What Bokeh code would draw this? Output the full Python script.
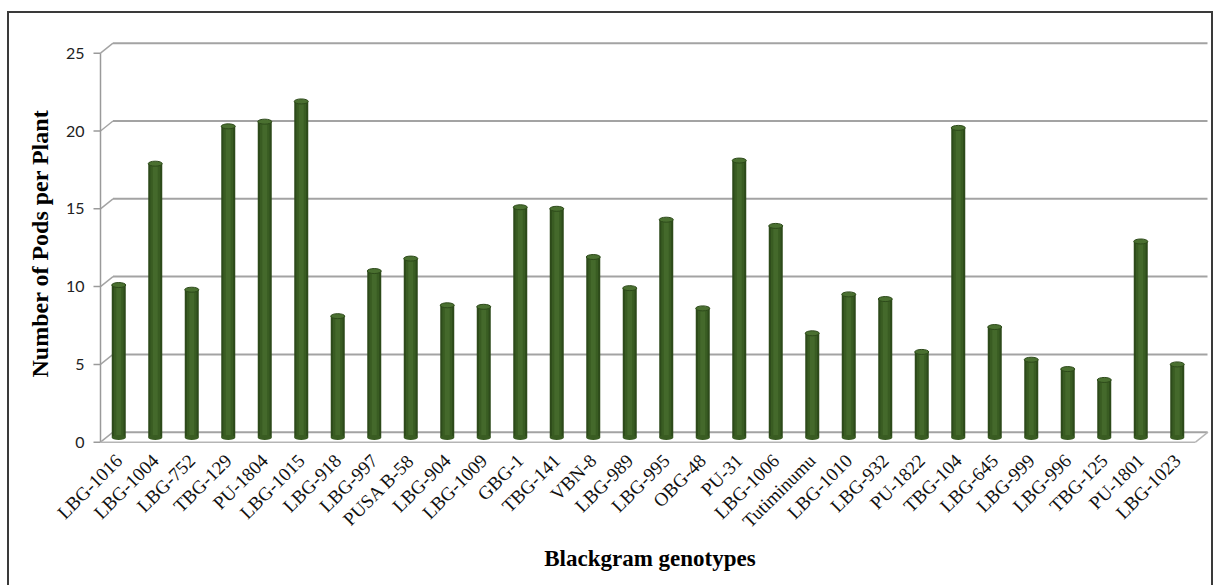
import math
from bokeh.plotting import figure
from bokeh.models import Range1d, FixedTicker
from bokeh.embed import file_html
from bokeh.resources import INLINE

# ---------------- data ----------------
genotypes = ["LBG-1016", "LBG-1004", "LBG-752", "TBG-129", "PU-1804", "LBG-1015",
             "LBG-918", "LBG-997", "PUSA B-58", "LBG-904", "LBG-1009", "GBG-1",
             "TBG-141", "VBN-8", "LBG-989", "LBG-995", "OBG-48", "PU-31",
             "LBG-1006", "Tutiminumu", "LBG-1010", "LBG-932", "PU-1822", "TBG-104",
             "LBG-645", "LBG-999", "LBG-996", "TBG-125", "PU-1801", "LBG-1023"]
pods = [9.8, 17.6, 9.5, 20.0, 20.3, 21.6,
        7.8, 10.7, 11.5, 8.5, 8.4, 14.8,
        14.7, 11.6, 9.6, 14.0, 8.3, 17.8,
        13.6, 6.7, 9.2, 8.9, 5.5, 19.9,
        7.1, 5.0, 4.4, 3.7, 12.6, 4.7]
y_ticks = [0, 5, 10, 15, 20, 25]
x_title = "Blackgram genotypes"
y_title = "Number of Pods per Plant"

# ---------------- geometry / style (page pixels) ----------------
OFF_X, OFF_Y = 9, 13          # canvas offset inside the bordered page
PX_X = 36.5                   # px per category
PX_Y = 15.56                  # px per unit
X0_PX = 100.0                 # page px of category start (front axis)
Y0_PX = 441.7                 # page px of value 0 (front)
FR_L, FR_R, FR_T, FR_B = 88, 1211, 40, 446
W, H = 1211 - OFF_X, 585 - OFF_Y
DX = 12.5 / PX_X              # depth offset of the back wall
DY = 10.0 / PX_Y
BAR_DEPTH = 0.3               # bar base sits at mid-depth
BAR_W = 14 / PX_X
CAP_H = 5 / PX_Y
FONT_SERIF = "Liberation Serif"

n = len(genotypes)
xs = [i + 0.5 for i in range(n)]

p = figure(width=W, height=H, output_backend="svg", toolbar_location=None,
           x_range=Range1d((FR_L - X0_PX) / PX_X, (FR_R - X0_PX) / PX_X),
           y_range=Range1d((Y0_PX - FR_B) / PX_Y, (Y0_PX - FR_T) / PX_Y),
           min_border_left=FR_L - OFF_X, min_border_right=0,
           min_border_top=FR_T - OFF_Y, min_border_bottom=H - (FR_B - OFF_Y))
p.styles = {"margin-left": f"{OFF_X}px", "margin-top": f"{OFF_Y}px",
            "outline": "2px solid #3a3a3a"}
p.outline_line_color = None
p.xgrid.grid_line_color = None
p.ygrid.grid_line_color = None
p.background_fill_color = "white"
p.border_fill_color = "white"

# ---- 3D-like wall / floor ----
grid_col = "#a3a3a3"
x_back_end = (1207 - X0_PX) / PX_X
p.segment(x0=[DX] * len(y_ticks), y0=[v + DY for v in y_ticks],
          x1=[x_back_end] * len(y_ticks), y1=[v + DY for v in y_ticks],
          line_color=grid_col, line_width=2)
p.segment(x0=[0] * len(y_ticks), y0=y_ticks,
          x1=[DX] * len(y_ticks), y1=[v + DY for v in y_ticks],
          line_color=grid_col, line_width=1.5)
p.segment(x0=[-7 / PX_X] * len(y_ticks), y0=y_ticks,
          x1=[0] * len(y_ticks), y1=y_ticks, line_color="#9a9a9a", line_width=1.5)
p.segment(x0=[0], y0=[0], x1=[0], y1=[y_ticks[-1]], line_color="#9a9a9a", line_width=1.5)
p.segment(x0=[0, n], y0=[0, 0], x1=[n, n + DX], y1=[0, DY],
          line_color="#b5b5b5", line_width=1.5)

# ---- cylinder bars ----
tops = [v + BAR_DEPTH for v in pods]
p.vbar(x=xs, bottom=BAR_DEPTH, top=tops, width=BAR_W,
       fill_color="#2d4a1a", line_color=None)
p.vbar(x=xs, bottom=BAR_DEPTH, top=tops, width=BAR_W * 0.7,
       fill_color="#395c22", line_color=None)
p.vbar(x=xs, bottom=BAR_DEPTH, top=tops, width=BAR_W * 0.35,
       fill_color="#44692b", line_color=None)
p.ellipse(x=xs, y=[BAR_DEPTH] * n, width=BAR_W, height=CAP_H,
          fill_color="#395c22", line_color=None)
p.ellipse(x=xs, y=tops, width=BAR_W, height=CAP_H,
          fill_color="#4a7030", line_color="#2d4a1a", line_width=1)

# ---- axes ----
xa = p.xaxis[0]
xa.ticker = FixedTicker(ticks=xs)
xa.major_label_overrides = {x: g for x, g in zip(xs, genotypes)}
xa.major_label_orientation = math.pi / 4
xa.axis_line_color = None
xa.major_tick_line_color = None
xa.minor_tick_line_color = None
xa.major_tick_out = 0
xa.major_tick_in = 0
xa.major_label_standoff = 11
xa.major_label_text_font = FONT_SERIF
xa.major_label_text_font_size = "19px"
xa.major_label_text_color = "#111111"
xa.axis_label = x_title
xa.axis_label_text_font = FONT_SERIF
xa.axis_label_text_font_style = "bold"
xa.axis_label_text_font_size = "23px"
xa.axis_label_text_color = "#000000"
xa.axis_label_standoff = 4

ya = p.yaxis[0]
ya.ticker = FixedTicker(ticks=y_ticks)
ya.axis_line_color = None
ya.major_tick_line_color = None
ya.minor_tick_line_color = None
ya.major_tick_out = 0
ya.major_tick_in = 0
ya.major_label_standoff = 4
ya.major_label_text_font = "Lato"
ya.major_label_text_font_size = "16px"
ya.major_label_text_color = "#222222"
ya.axis_label = y_title
ya.axis_label_text_font = FONT_SERIF
ya.axis_label_text_font_style = "bold"
ya.axis_label_text_font_size = "24px"
ya.axis_label_text_color = "#000000"
ya.axis_label_standoff = 10

open("out.html", "w").write(file_html(p, INLINE))
